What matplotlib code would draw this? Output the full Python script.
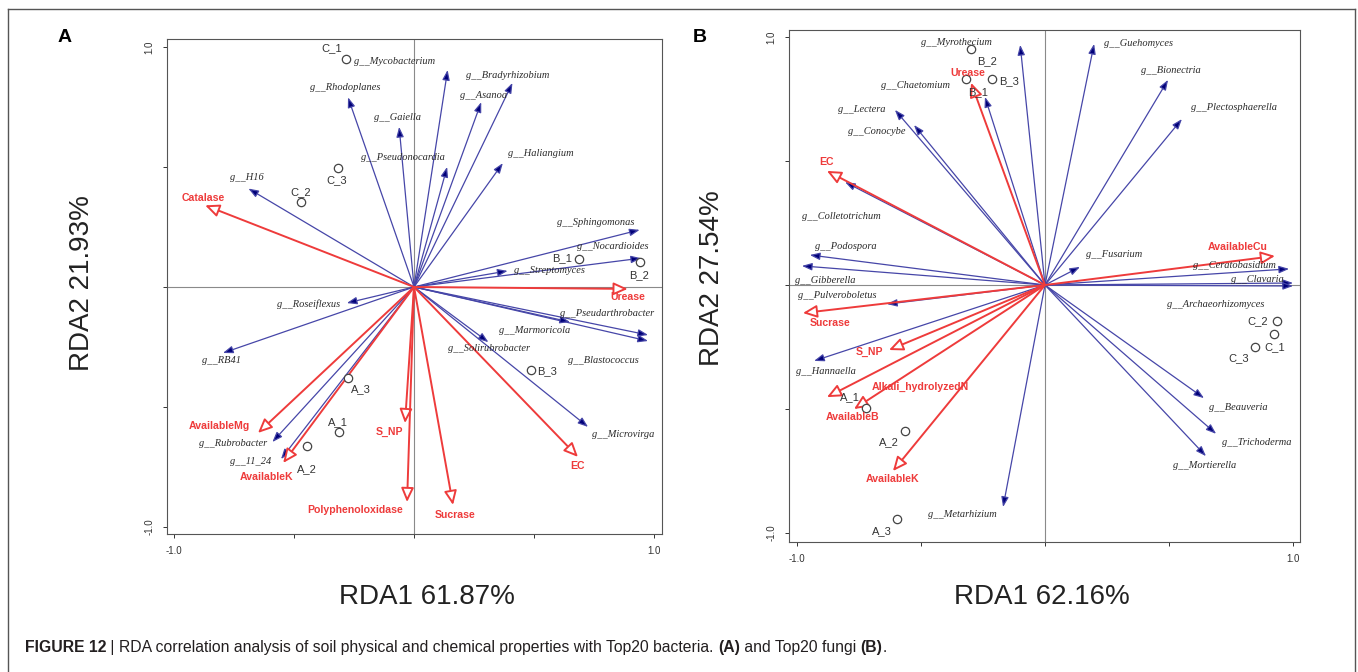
import matplotlib
matplotlib.use('Agg')
import matplotlib.pyplot as plt
from matplotlib.patches import FancyArrowPatch
from matplotlib.lines import Line2D

plt.rcParams['font.family'] = ['Liberation Sans', 'DejaVu Sans']

# ---------------- (A) bacteria ----------------
bac_names = ['Mycobacterium', 'Rhodoplanes', 'Gaiella', 'Pseudonocardia', 'Bradyrhizobium',
             'Asanoa', 'Haliangium', 'H16', 'Sphingomonas', 'Nocardioides', 'Streptomyces',
             'Roseiflexus', 'RB41', 'Rubrobacter', '11_24', 'Pseudarthrobacter', 'Blastococcus',
             'Marmoricola', 'Solirubrobacter', 'Microvirga']
bac_x = [0.14, -0.275, -0.062, 0.138, 0.41, 0.28, 0.37, -0.69, 0.94, 0.946, 0.39,
         -0.28, -0.796, -0.59, -0.554, 0.975, 0.975, 0.65, 0.31, 0.725]
bac_y = [0.904, 0.79, 0.667, 0.5, 0.85, 0.77, 0.516, 0.41, 0.238, 0.12, 0.067,
         -0.067, -0.275, -0.646, -0.717, -0.2, -0.225, -0.146, -0.23, -0.583]
bac_lab_x = [-0.079, -0.288, -0.067, -0.046, 0.392, 0.288, 0.529, -0.696, 0.758, 0.829, 0.563,
             -0.438, -0.8, -0.754, -0.679, 0.804, 0.788, 0.504, 0.313, 0.871]
bac_lab_y = [0.9375, 0.829, 0.704, 0.5375, 0.879, 0.796, 0.558, 0.454, 0.267, 0.167, 0.067,
             -0.071, -0.308, -0.65, -0.725, -0.1125, -0.308, -0.183, -0.258, -0.6125]

envA_names = ['Catalase', 'Urease', 'AvailableMg', 'AvailableK', 'S_NP',
              'Polyphenoloxidase', 'Sucrase', 'EC']
envA_x = [-0.87, 0.89, -0.65, -0.545, -0.0375, -0.029, 0.1625, 0.683]
envA_y = [0.34, -0.008, -0.608, -0.733, -0.567, -0.896, -0.908, -0.708]
envA_lab_x = [-0.879, 0.892, -0.8125, -0.6125, -0.104, -0.246, 0.171, 0.683]
envA_lab_y = [0.371, -0.042, -0.579, -0.79, -0.604, -0.929, -0.95, -0.746]

sampA_names = ['C_1', 'C_2', 'C_3', 'B_1', 'B_2', 'B_3', 'A_1', 'A_2', 'A_3']
sampA_x = [-0.283, -0.47, -0.317, 0.6875, 0.94, 0.4875, -0.3125, -0.446, -0.275]
sampA_y = [0.95, 0.354, 0.496, 0.117, 0.104, -0.346, -0.604, -0.663, -0.379]
sampA_lab_x = [-0.342, -0.471, -0.321, 0.617, 0.9375, 0.554, -0.317, -0.446, -0.221]
sampA_lab_y = [0.996, 0.396, 0.446, 0.121, 0.05, -0.35, -0.5625, -0.758, -0.425]

# ---------------- (B) fungi ----------------
fun_names = ['Myrothecium', 'Guehomyces', 'Bionectria', 'Plectosphaerella', 'Chaetomium',
             'Lectera', 'Conocybe', 'Colletotrichum', 'Podospora', 'Gibberella',
             'Pulveroboletus', 'Hannaella', 'Metarhizium', 'Fusarium', 'Ceratobasidium',
             'Clavaria', 'Archaeorhizomyces', 'Beauveria', 'Trichoderma', 'Mortierella']
fun_x = [-0.1, 0.198, 0.496, 0.552, -0.242, -0.605, -0.528, -0.806, -0.948, -0.98,
         -0.637, -0.931, -0.169, 0.141, 0.984, 1.0, 1.0, 0.641, 0.69, 0.649]
fun_y = [0.968, 0.972, 0.827, 0.669, 0.758, 0.706, 0.645, 0.415, 0.121, 0.077,
         -0.077, -0.306, -0.895, 0.073, 0.065, 0.008, -0.004, -0.456, -0.6, -0.69]
fun_lab_x = [-0.359, 0.375, 0.508, 0.762, -0.524, -0.738, -0.677, -0.819, -0.802, -0.887,
             -0.839, -0.883, -0.335, 0.278, 0.762, 0.855, 0.69, 0.778, 0.855, 0.645]
fun_lab_y = [0.976, 0.972, 0.863, 0.714, 0.806, 0.706, 0.617, 0.278, 0.157, 0.02,
             -0.044, -0.347, -0.927, 0.121, 0.077, 0.024, -0.077, -0.492, -0.633, -0.726]

envB_names = ['Urease', 'EC', 'AvailableCu', 'Sucrase', 'S_NP',
              'Alkali_hydrolyzedN', 'AvailableB', 'AvailableK']
envB_x = [-0.298, -0.879, 0.927, -0.976, -0.629, -0.879, -0.77, -0.613]
envB_y = [0.815, 0.46, 0.117, -0.113, -0.262, -0.452, -0.5, -0.75]
envB_lab_x = [-0.31, -0.879, 0.778, -0.867, -0.706, -0.504, -0.774, -0.613]
envB_lab_y = [0.855, 0.496, 0.153, -0.153, -0.27, -0.411, -0.532, -0.782]

sampB_names = ['A_1', 'A_2', 'A_3', 'B_1', 'B_2', 'B_3', 'C_1', 'C_2', 'C_3']
sampB_x = [-0.722, -0.565, -0.597, -0.32, -0.298, -0.214, 0.923, 0.935, 0.847]
sampB_y = [-0.496, -0.589, -0.944, 0.83, 0.95, 0.83, -0.198, -0.145, -0.25]
sampB_lab_x = [-0.786, -0.629, -0.657, -0.27, -0.234, -0.145, 0.927, 0.859, 0.782]
sampB_lab_y = [-0.452, -0.633, -0.992, 0.778, 0.903, 0.823, -0.25, -0.145, -0.294]

BLUE_LINE = '#4646a8'
BLUE_HEAD = '#000078'
RED = '#ee3b3b'


def biplot(ax, xlim, ylim,
           sp_names, sp_x, sp_y, sp_lx, sp_ly,
           env_names, env_x, env_y, env_lx, env_ly,
           s_names, s_x, s_y, s_lx, s_ly):
    ax.set_xlim(*xlim)
    ax.set_ylim(*ylim)
    ax.axhline(0, color='#8a8a8a', lw=0.8, zorder=1)
    ax.axvline(0, color='#8a8a8a', lw=0.8, zorder=1)

    for x, y in zip(sp_x, sp_y):
        ax.add_patch(FancyArrowPatch((0, 0), (x, y),
                                     arrowstyle='-|>,head_length=0.6,head_width=0.22',
                                     mutation_scale=10, lw=0.9, ec=BLUE_LINE, fc=BLUE_HEAD,
                                     shrinkA=0, shrinkB=0, zorder=3))
    for x, y in zip(env_x, env_y):
        ax.add_patch(FancyArrowPatch((0, 0), (x, y),
                                     arrowstyle='-|>,head_length=0.85,head_width=0.38',
                                     mutation_scale=10, lw=1.4, ec=RED, fc='white',
                                     shrinkA=0, shrinkB=0, zorder=4))

    for n, x, y in zip(sp_names, sp_lx, sp_ly):
        ax.text(x, y, 'g__' + n, fontsize=7.5, style='italic', color='#2a2a2a',
                family=['Liberation Serif', 'DejaVu Serif'], ha='center', va='center', zorder=5)
    for n, x, y in zip(env_names, env_lx, env_ly):
        ax.text(x, y, n, fontsize=7.6, fontweight='bold', color=RED,
                ha='center', va='center', zorder=6)

    ax.plot(s_x, s_y, 'o', ms=6, mfc='white', mec='#444444', mew=0.9, zorder=5)
    for n, x, y in zip(s_names, s_lx, s_ly):
        ax.text(x, y, n, fontsize=8, color='#333333', ha='center', va='center', zorder=6)

    ticks = [-1.0, -0.5, 0.0, 0.5, 1.0]
    labs = ['-1.0', '', '', '', '1.0']
    ax.set_xticks(ticks)
    ax.set_xticklabels(labs)
    ax.set_yticks(ticks)
    ax.set_yticklabels(labs, rotation=90, va='center')
    ax.tick_params(direction='out', length=3, width=0.7, labelsize=7,
                   colors='#333333', pad=6)
    for s in ax.spines.values():
        s.set_linewidth(0.8)
        s.set_color('#555555')


W, H = 1358, 672
fig = plt.figure(figsize=(W / 100, H / 100), dpi=100)

axA = fig.add_axes([167 / W, 1 - 534 / H, 495 / W, 495 / H])
biplot(axA, (-1.029, 1.033), (-1.029, 1.033),
       bac_names, bac_x, bac_y, bac_lab_x, bac_lab_y,
       envA_names, envA_x, envA_y, envA_lab_x, envA_lab_y,
       sampA_names, sampA_x, sampA_y, sampA_lab_x, sampA_lab_y)

axB = fig.add_axes([789 / W, 1 - 542 / H, 511 / W, 512 / H])
biplot(axB, (-1.032, 1.028), (-1.036, 1.028),
       fun_names, fun_x, fun_y, fun_lab_x, fun_lab_y,
       envB_names, envB_x, envB_y, envB_lab_x, envB_lab_y,
       sampB_names, sampB_x, sampB_y, sampB_lab_x, sampB_lab_y)

# axis titles and panel letters
fig.text(427 / W, 1 - 597 / H, 'RDA1 61.87%', fontsize=20, color='#222222', ha='center', va='center')
fig.text(1042 / W, 1 - 597 / H, 'RDA1 62.16%', fontsize=20, color='#222222', ha='center', va='center')
fig.text(82 / W, 1 - 283 / H, 'RDA2 21.93%', fontsize=20, color='#222222', rotation=90,
         ha='center', va='center')
fig.text(712 / W, 1 - 278 / H, 'RDA2 27.54%', fontsize=20, color='#222222', rotation=90,
         ha='center', va='center')
fig.text(65 / W, 1 - 38 / H, 'A', fontsize=14, fontweight='bold', ha='center', va='center')
fig.text(700 / W, 1 - 38 / H, 'B', fontsize=14, fontweight='bold', ha='center', va='center')

# outer frame
frame = dict(color='#555555', lw=1.0, transform=fig.transFigure)
fig.add_artist(Line2D([8 / W, 8 / W], [0, 1 - 9 / H], **frame))
fig.add_artist(Line2D([8 / W, 1355 / W], [1 - 9 / H, 1 - 9 / H], **frame))
fig.add_artist(Line2D([1355 / W, 1355 / W], [0, 1 - 9 / H], **frame))

# caption with mixed bold / regular runs
caption = [('FIGURE 12', 'bold'), (' | ', 'normal'),
           ('RDA correlation analysis of soil physical and chemical properties with Top20 bacteria. ', 'normal'),
           ('(A)', 'bold'), (' and Top20 fungi ', 'normal'), ('(B)', 'bold'), ('.', 'normal')]
renderer = fig.canvas.get_renderer()
x = 25
for txt, wt in caption:
    t = fig.text(x / W, 1 - 652 / H, txt, fontsize=11.3, fontweight=wt, color='#231f20',
                 ha='left', va='baseline')
    bb = t.get_window_extent(renderer=renderer)
    x += bb.width

fig.savefig('out.png', dpi=100)
